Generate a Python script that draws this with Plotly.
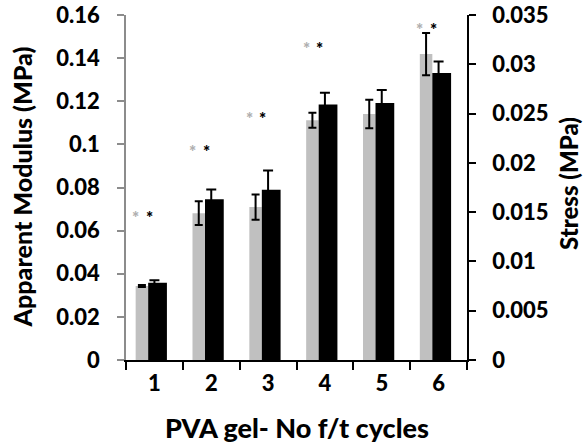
import plotly.graph_objects as go

# Freeze/thaw cycle groups
cycles = ["1", "2", "3", "4", "5", "6"]

# Apparent modulus (MPa), left axis, with standard deviations
modulus = [0.0343, 0.0681, 0.0709, 0.1112, 0.1141, 0.1419]
modulus_err = [0.0005, 0.0055, 0.0058, 0.0035, 0.0066, 0.0098]

# Stress (MPa), right axis, with standard deviations
stress = [0.00784, 0.01632, 0.01726, 0.02592, 0.02608, 0.02912]
stress_err = [0.00024, 0.00098, 0.00197, 0.00118, 0.00132, 0.00115]

# Significance markers: group index and height (left-axis units)
sig_groups = [0, 1, 2, 3, 5]
sig_heights = [0.0683, 0.0992, 0.1145, 0.1467, 0.1554]

FONT = "Lato"
WEIGHT = 900
W, H = 585, 443
L, R, T, B = 126, 118, 15, 83
pw = W - L - R

fig = go.Figure()

fig.add_trace(go.Bar(
    x=cycles, y=modulus, yaxis="y",
    marker=dict(color="#c0c0c0", line=dict(width=0)),
    offset=-0.33, width=0.22,
    error_y=dict(type="data", array=modulus_err, color="black", thickness=2, width=4),
    showlegend=False,
))

fig.add_trace(go.Bar(
    x=cycles, y=stress, yaxis="y2",
    marker=dict(color="black", line=dict(width=0)),
    offset=-0.11, width=0.33,
    showlegend=False,
))

# Stress error bars sit at the group centre
fig.add_trace(go.Scatter(
    x=cycles, y=stress, yaxis="y2", mode="markers",
    marker=dict(size=1, color="rgba(0,0,0,0)"),
    error_y=dict(type="data", array=stress_err, color="black", thickness=2, width=5),
    showlegend=False, hoverinfo="skip",
))

annotations = []
for g, h in zip(sig_groups, sig_heights):
    annotations.append(dict(x=g - 0.33, y=h, xref="x", yref="y", text="*",
                            showarrow=False, yshift=-5,
                            font=dict(family=FONT, size=17, color="#b0b0b0", weight=WEIGHT)))
    annotations.append(dict(x=g - 0.09, y=h, xref="x", yref="y", text="*",
                            showarrow=False, yshift=-5,
                            font=dict(family=FONT, size=17, color="black", weight=WEIGHT)))


def title_font(size):
    return dict(family=FONT, size=size, color="black", weight=WEIGHT)


annotations.append(dict(x=(21 - L) / pw, y=0.5, xref="paper", yref="paper",
                        text="Apparent Modulus (MPa)", textangle=-90, showarrow=False,
                        xanchor="center", yanchor="middle", font=title_font(25)))
annotations.append(dict(x=(568 - L) / pw, y=0.51, xref="paper", yref="paper",
                        text="Stress (MPa)", textangle=-90, showarrow=False,
                        xanchor="center", yanchor="middle", font=title_font(24),
                        borderpad=0))
annotations.append(dict(x=0.5, y=(H - 428 - B) / (H - T - B), xref="paper", yref="paper",
                        text="PVA gel- No f/t cycles", showarrow=False,
                        xanchor="center", yanchor="middle", font=title_font(27)))

tick_font = dict(family=FONT, size=22, color="black", weight=WEIGHT)

fig.update_layout(
    width=W, height=H,
    margin=dict(l=L, r=R, t=T, b=B, autoexpand=False),
    paper_bgcolor="white", plot_bgcolor="white",
    barmode="overlay",
    annotations=annotations,
    xaxis=dict(
        type="category", range=[-0.5, 5.5], tickson="boundaries",
        ticks="outside", ticklen=8, tickwidth=1.5, tickcolor="black",
        showline=True, linecolor="black", linewidth=1.5,
        showgrid=False, zeroline=False,
        tickfont=tick_font, ticklabelstandoff=3,
    ),
    yaxis=dict(
        range=[0, 0.16], dtick=0.02, tickformat="~g",
        ticks="outside", ticklen=7, tickwidth=1.5, tickcolor="#8c8c8c",
        showline=True, linecolor="#8c8c8c", linewidth=1.5,
        showgrid=False, zeroline=False,
        tickfont=tick_font, ticklabelstandoff=13,
    ),
    yaxis2=dict(
        range=[0, 0.035], dtick=0.005, tickformat="~g",
        overlaying="y", side="right",
        ticks="outside", ticklen=7, tickwidth=1.5, tickcolor="black",
        showline=True, linecolor="black", linewidth=1.5,
        showgrid=False, zeroline=False,
        tickfont=tick_font, ticklabelstandoff=12,
    ),
)

fig.write_html("out.html")
